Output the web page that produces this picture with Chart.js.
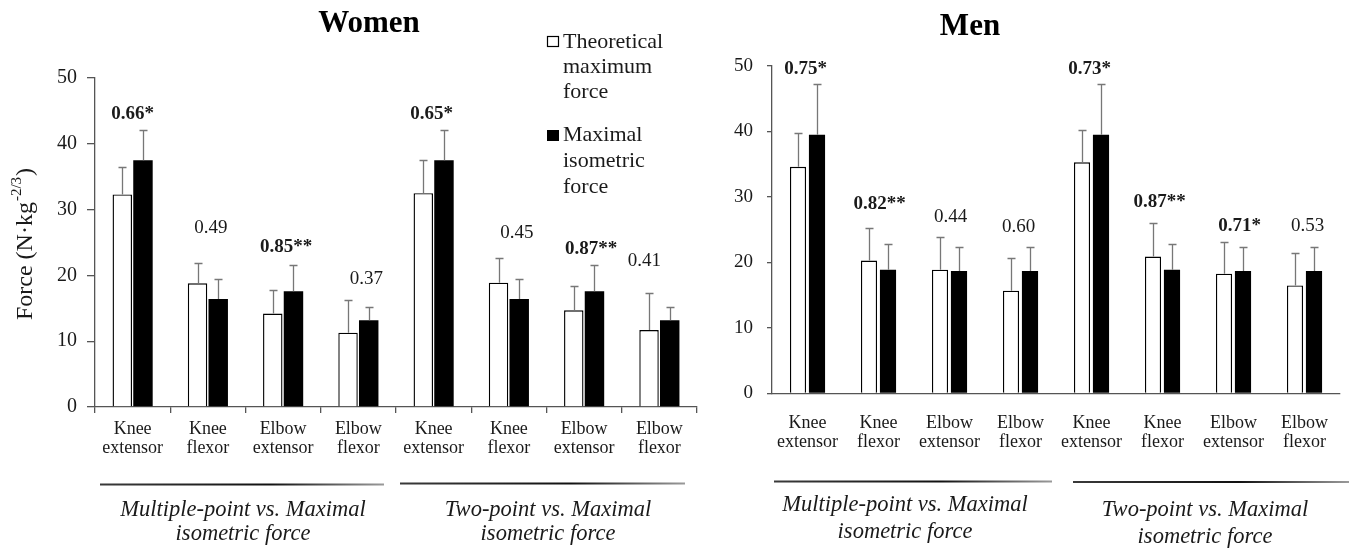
<!DOCTYPE html>
<html>
<head>
<meta charset="utf-8">
<script src="https://cdn.jsdelivr.net/npm/chart.js@4.4.1/dist/chart.umd.min.js"></script>
<style>
  html, body { margin: 0; padding: 0; background: #fff; }
  #wrap { position: relative; width: 1349px; height: 548px; overflow: hidden; }
  canvas { position: absolute; top: 0; }
  #women { left: 0; }
  #men { left: 700px; }
</style>
</head>
<body>
<div id="wrap">
  <canvas id="women" width="700" height="548"></canvas>
  <canvas id="men" width="649" height="548"></canvas>
</div>
<script>
// Muscle groups, repeated for the two comparisons
const muscles = [
  ['Knee', 'extensor'], ['Knee', 'flexor'], ['Elbow', 'extensor'], ['Elbow', 'flexor'],
  ['Knee', 'extensor'], ['Knee', 'flexor'], ['Elbow', 'extensor'], ['Elbow', 'flexor']
];
const seriesNames = ['Theoretical maximum force', 'Maximal isometric force'];
const comparisons = [['Multiple-point vs. Maximal', 'isometric force'], ['Two-point vs. Maximal', 'isometric force']];
const yTicks = [0, 10, 20, 30, 40, 50];

// Women: means and SD (N·kg^-2/3)
const womenTheoretical   = [32.3, 18.8, 14.2, 11.3, 32.5, 18.9, 14.7, 11.7];
const womenTheoreticalSD = [4.2, 3.1, 3.6, 5.0, 5.0, 3.7, 3.7, 5.7];
const womenIsometric     = [37.5, 16.4, 17.6, 13.2, 37.5, 16.4, 17.6, 13.2];
const womenIsometricSD   = [4.6, 3.0, 4.0, 2.0, 4.6, 3.0, 4.0, 2.0];
const womenR = ['0.66*', '0.49', '0.85**', '0.37', '0.65*', '0.45', '0.87**', '0.41'];

// Men: means and SD (N·kg^-2/3)
const menTheoretical   = [34.6, 20.3, 18.9, 15.7, 35.3, 20.9, 18.3, 16.5];
const menTheoreticalSD = [5.1, 5.0, 5.0, 5.0, 5.0, 5.1, 4.8, 5.0];
const menIsometric     = [39.5, 18.9, 18.7, 18.7, 39.5, 18.9, 18.7, 18.7];
const menIsometricSD   = [7.8, 4.0, 3.6, 3.6, 7.8, 4.0, 3.6, 3.6];
const menR = ['0.75*', '0.82**', '0.44', '0.60', '0.73*', '0.87**', '0.71*', '0.53'];

// Where each correlation label sits (axis units) and its sideways nudge (px)
const womenLabelAt = [44.5, 27.2, 24.3, 19.5, 44.5, 26.4, 24.0, 22.2];
const womenLabelNudge = [0, 3, 3, 8, -2, 8, 7, -15];
const menLabelAt = [49.5, 28.9, 26.9, 25.4, 49.5, 29.2, 25.5, 25.5];
const menLabelNudge = [-2, 1, 1, -2, -2, -3, 6, 3];

const SERIF = '"Liberation Serif", "Times New Roman", serif';
const INK = '#1a1a1a';
const AXIS = '#555555';

function drawWhiskers(chart, sds) {
  const ctx = chart.ctx, ys = chart.scales.y;
  ctx.save();
  ctx.strokeStyle = '#777777';
  ctx.lineWidth = 1.3;
  chart.data.datasets.forEach((ds, i) => {
    chart.getDatasetMeta(i).data.forEach((bar, j) => {
      const top = Math.round(ys.getPixelForValue(ds.data[j] + sds[i][j])) + 0.5;
      const x = Math.round(bar.x) + 0.5;
      ctx.beginPath();
      ctx.moveTo(x, bar.y);
      ctx.lineTo(x, top);
      ctx.moveTo(x - 4, top);
      ctx.lineTo(x + 4, top);
      ctx.stroke();
    });
  });
  ctx.restore();
}

function drawRLabels(chart, labels, at, nudge) {
  const ctx = chart.ctx, xs = chart.scales.x, ys = chart.scales.y;
  ctx.save();
  ctx.fillStyle = INK;
  ctx.textAlign = 'center';
  ctx.textBaseline = 'middle';
  labels.forEach((t, j) => {
    const bold = t.indexOf('*') >= 0;
    ctx.font = (bold ? 'bold ' : '') + '19px ' + SERIF;
    ctx.fillText(t, xs.getPixelForValue(j) + nudge[j], ys.getPixelForValue(at[j]));
  });
  ctx.restore();
}

function drawGroups(chart, lines, texts) {
  const ctx = chart.ctx;
  ctx.save();
  lines.forEach(([x0, x1, y]) => {
    const g = ctx.createLinearGradient(x0, 0, x1, 0);
    g.addColorStop(0, '#3a3a3a');
    g.addColorStop(0.6, '#111111');
    g.addColorStop(1, '#9a9a9a');
    ctx.strokeStyle = g;
    ctx.lineWidth = 2;
    ctx.beginPath();
    ctx.moveTo(x0, y);
    ctx.lineTo(x1, y);
    ctx.stroke();
  });
  ctx.fillStyle = INK;
  ctx.textAlign = 'center';
  ctx.textBaseline = 'middle';
  ctx.font = 'italic 22.5px ' + SERIF;
  texts.forEach(([lines2, cx, y0, y1]) => {
    ctx.fillText(lines2[0], cx, y0);
    ctx.fillText(lines2[1], cx, y1);
  });
  ctx.restore();
}

function drawTitle(chart, text, cx, baseline) {
  const ctx = chart.ctx;
  ctx.save();
  ctx.fillStyle = '#000';
  ctx.font = 'bold 31px ' + SERIF;
  ctx.textAlign = 'center';
  ctx.textBaseline = 'alphabetic';
  ctx.fillText(text, cx, baseline);
  ctx.restore();
}

const womenExtras = {
  id: 'womenExtras',
  afterDatasetsDraw(chart) {
    drawWhiskers(chart, [womenTheoreticalSD, womenIsometricSD]);
  },
  afterDraw(chart) {
    const ctx = chart.ctx;
    drawRLabels(chart, womenR, womenLabelAt, womenLabelNudge);
    drawTitle(chart, 'Women', 369, 32);

    // Legend
    ctx.save();
    ctx.font = '22px ' + SERIF;
    ctx.textBaseline = 'alphabetic';
    ctx.textAlign = 'left';
    ctx.fillStyle = '#fff';
    ctx.fillRect(547, 36, 12, 11);
    ctx.strokeStyle = '#000';
    ctx.lineWidth = 1.2;
    ctx.strokeRect(547.5, 36.5, 11, 10);
    ctx.fillStyle = '#000';
    ctx.fillRect(547, 130, 12, 11);
    ctx.fillStyle = INK;
    ['Theoretical', 'maximum', 'force'].forEach((t, i) => ctx.fillText(t, 563, 48 + i * 25));
    ['Maximal', 'isometric', 'force'].forEach((t, i) => ctx.fillText(t, 563, 141 + i * 26));
    ctx.restore();

    // Y axis title with superscript exponent
    ctx.save();
    ctx.translate(26, 244);
    ctx.rotate(-Math.PI / 2);
    ctx.fillStyle = INK;
    ctx.textBaseline = 'middle';
    ctx.textAlign = 'left';
    const big = '24px ' + SERIF, small = '15px ' + SERIF;
    ctx.font = big; const w1 = ctx.measureText('Force (N·kg').width;
    ctx.font = small; const w2 = ctx.measureText('-2/3').width;
    ctx.font = big; const w3 = ctx.measureText(')').width;
    let x = -(w1 + w2 + w3 + 2) / 2;
    ctx.font = big; ctx.fillText('Force (N·kg', x, 0); x += w1 + 1;
    ctx.font = small; ctx.fillText('-2/3', x, -9); x += w2 + 1;
    ctx.font = big; ctx.fillText(')', x, 0);
    ctx.restore();

    drawGroups(chart,
      [[100, 384, 484.5], [400, 685, 483.5]],
      [[comparisons[0], 243, 510, 534], [comparisons[1], 548, 510, 534]]);
  }
};

const menExtras = {
  id: 'menExtras',
  afterDatasetsDraw(chart) {
    drawWhiskers(chart, [menTheoreticalSD, menIsometricSD]);
  },
  afterDraw(chart) {
    drawRLabels(chart, menR, menLabelAt, menLabelNudge);
    drawTitle(chart, 'Men', 270, 35);
    drawGroups(chart,
      [[74, 352, 481.5], [373, 649, 482]],
      [[comparisons[0], 205, 505, 532], [comparisons[1], 505, 510, 537]]);
  }
};

function makeChart(id, theo, iso, cfg, plugin) {
  return new Chart(document.getElementById(id), {
    type: 'bar',
    data: {
      labels: muscles,
      datasets: [
        { label: seriesNames[0], data: theo, backgroundColor: '#ffffff', borderColor: '#000000', borderWidth: 1.4,
          categoryPercentage: cfg.cat, barPercentage: cfg.bar },
        { label: seriesNames[1], data: iso, backgroundColor: '#000000', borderColor: '#000000', borderWidth: 0,
          categoryPercentage: cfg.cat, barPercentage: cfg.bar }
      ]
    },
    options: {
      responsive: false,
      maintainAspectRatio: false,
      animation: false,
      layout: { padding: { top: cfg.top, right: cfg.right, left: 0, bottom: 0 } },
      plugins: { legend: { display: false }, tooltip: { enabled: false }, title: { display: false } },
      scales: {
        x: {
          offset: true,
          border: { display: true, color: AXIS, width: 1.3 },
          grid: { display: cfg.xTicks, drawOnChartArea: false, offset: true, tickLength: 6, color: AXIS, lineWidth: 1.3 },
          ticks: { color: INK, font: { family: SERIF, size: 18, lineHeight: cfg.lh }, padding: cfg.xPad, maxRotation: 0, autoSkip: false },
          afterFit(s) { s.height = 548 - cfg.bottom; }
        },
        y: {
          min: 0, max: 50,
          afterBuildTicks(s) { s.ticks = yTicks.map(v => ({ value: v })); },
          border: { display: true, color: AXIS, width: 1.3 },
          grid: { drawOnChartArea: false, tickLength: cfg.yTick, color: AXIS, lineWidth: 1.3 },
          ticks: { color: INK, font: { family: SERIF, size: cfg.ySize }, padding: cfg.yPad },
          afterFit(s) { s.width = cfg.left; }
        }
      }
    },
    plugins: [plugin]
  });
}

makeChart('women', womenTheoretical, womenIsometric,
  { cat: 0.55, bar: 0.94, top: 78, right: 3, bottom: 407, left: 95, xTicks: true, xPad: 6, lh: 1.1, yTick: 8, yPad: 10, ySize: 20 },
  womenExtras);

makeChart('men', menTheoretical, menIsometric,
  { cat: 0.535, bar: 0.85, top: 66, right: 9, bottom: 393.5, left: 72, xTicks: false, xPad: 15, lh: 1.02, yTick: 5, yPad: 14, ySize: 19 },
  menExtras);
</script>
</body>
</html>
